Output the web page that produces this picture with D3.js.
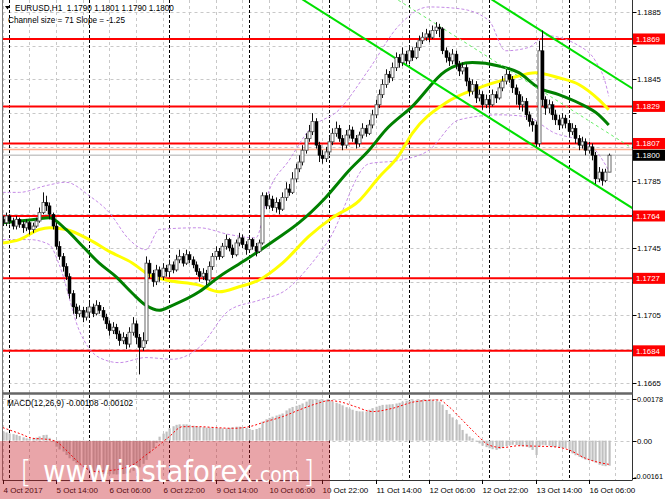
<!DOCTYPE html>
<html><head><meta charset="utf-8">
<script src="https://cdn.jsdelivr.net/npm/d3@7/dist/d3.min.js"></script>
<style>body{margin:0;background:#fff}svg{display:block}</style>
</head><body><svg id="c" width="665" height="499"></svg>
<script>
const opens=[1.1762,1.1760,1.1764,1.1761,1.1758,1.1762,1.1759,1.1757,1.1760,1.1756,
1.1758,1.1761,1.1766,1.1772,1.1770,1.1765,1.1758,1.1746,1.1740,1.1734,
1.1728,1.1718,1.1710,1.1706,1.1708,1.1704,1.1707,1.1710,1.1706,1.1711,
1.1708,1.1704,1.1700,1.1696,1.1698,1.1694,1.1690,1.1692,1.1688,1.1695,
1.1700,1.1692,1.1686,1.1690,1.1736,1.1730,1.1725,1.1732,1.1728,1.1733,
1.1731,1.1735,1.1732,1.1738,1.1740,1.1736,1.1741,1.1738,1.1735,1.1731,
1.1728,1.1730,1.1726,1.1734,1.1740,1.1743,1.1740,1.1746,1.1750,1.1745,
1.1741,1.1748,1.1751,1.1747,1.1744,1.1750,1.1746,1.1743,1.1748,1.1776,
1.1770,1.1774,1.1769,1.1772,1.1768,1.1775,1.1780,1.1778,1.1786,1.1792,
1.1796,1.1803,1.1810,1.1814,1.1820,1.1806,1.1800,1.1798,1.1802,1.1808,
1.1813,1.1816,1.1810,1.1806,1.1812,1.1815,1.1810,1.1807,1.1812,1.1816,
1.1813,1.1818,1.1824,1.1830,1.1836,1.1842,1.1848,1.1846,1.1852,1.1858,
1.1855,1.1860,1.1856,1.1862,1.1858,1.1864,1.1868,1.1870,1.1872,1.1870,
1.1874,1.1876,1.1875,1.1862,1.1858,1.1856,1.1860,1.1854,1.1850,1.1852,
1.1844,1.1838,1.1842,1.1834,1.1836,1.1830,1.1833,1.1830,1.1836,1.1834,
1.1840,1.1844,1.1848,1.1845,1.1840,1.1836,1.1830,1.1832,1.1824,1.1820,
1.1818,1.1807,1.1862,1.1833,1.1828,1.1830,1.1824,1.1821,1.1818,1.1822,
1.1819,1.1814,1.1816,1.1810,1.1806,1.1808,1.1803,1.1805,1.1800,1.1786,
1.1790,1.1785,1.1790];
const highs=[1.1764,1.1766,1.1765,1.1763,1.1764,1.1763,1.1761,1.1762,1.1761,1.1760,
1.1763,1.1769,1.1778,1.1776,1.1772,1.1766,1.1760,1.1749,1.1742,1.1736,
1.1730,1.1720,1.1712,1.1711,1.1710,1.1710,1.1713,1.1712,1.1714,1.1713,
1.1710,1.1706,1.1702,1.1701,1.1700,1.1696,1.1695,1.1694,1.1698,1.1704,
1.1702,1.1694,1.1695,1.1740,1.1738,1.1732,1.1735,1.1734,1.1736,1.1735,
1.1738,1.1737,1.1741,1.1744,1.1742,1.1744,1.1743,1.1740,1.1737,1.1733,
1.1733,1.1732,1.1737,1.1742,1.1746,1.1745,1.1748,1.1753,1.1751,1.1747,
1.1750,1.1754,1.1753,1.1749,1.1752,1.1751,1.1748,1.1750,1.1778,1.1778,
1.1777,1.1776,1.1775,1.1774,1.1778,1.1784,1.1783,1.1790,1.1795,1.1800,
1.1806,1.1813,1.1818,1.1825,1.1822,1.1808,1.1803,1.1805,1.1811,1.1816,
1.1820,1.1818,1.1812,1.1815,1.1818,1.1817,1.1812,1.1814,1.1819,1.1818,
1.1821,1.1827,1.1833,1.1839,1.1845,1.1851,1.1850,1.1855,1.1861,1.1860,
1.1864,1.1862,1.1865,1.1864,1.1867,1.1871,1.1873,1.1875,1.1874,1.1877,
1.1879,1.1878,1.1876,1.1864,1.1861,1.1863,1.1862,1.1856,1.1855,1.1854,
1.1846,1.1845,1.1844,1.1839,1.1838,1.1836,1.1835,1.1839,1.1838,1.1843,
1.1847,1.1851,1.1850,1.1847,1.1842,1.1838,1.1835,1.1834,1.1826,1.1822,
1.1820,1.1868,1.1874,1.1835,1.1833,1.1832,1.1827,1.1824,1.1825,1.1824,
1.1821,1.1819,1.1818,1.1812,1.1811,1.1810,1.1808,1.1807,1.1802,1.1793,
1.1792,1.1792,1.1801];
const lows=[1.1758,1.1758,1.1759,1.1756,1.1756,1.1757,1.1754,1.1755,1.1753,1.1754,
1.1757,1.1760,1.1765,1.1767,1.1762,1.1756,1.1744,1.1738,1.1731,1.1726,
1.1715,1.1706,1.1703,1.1704,1.1701,1.1702,1.1705,1.1704,1.1705,1.1706,
1.1702,1.1697,1.1693,1.1694,1.1691,1.1687,1.1688,1.1685,1.1686,1.1693,
1.1688,1.1670,1.1684,1.1688,1.1727,1.1722,1.1723,1.1725,1.1726,1.1728,
1.1729,1.1730,1.1731,1.1736,1.1734,1.1735,1.1736,1.1733,1.1729,1.1725,
1.1726,1.1723,1.1725,1.1732,1.1738,1.1738,1.1739,1.1744,1.1743,1.1739,
1.1740,1.1746,1.1745,1.1741,1.1743,1.1744,1.1740,1.1742,1.1747,1.1768,
1.1768,1.1767,1.1766,1.1765,1.1767,1.1773,1.1776,1.1777,1.1784,1.1790,
1.1794,1.1801,1.1808,1.1812,1.1804,1.1796,1.1795,1.1796,1.1800,1.1806,
1.1811,1.1808,1.1803,1.1804,1.1810,1.1808,1.1804,1.1805,1.1810,1.1811,
1.1812,1.1816,1.1822,1.1828,1.1834,1.1840,1.1843,1.1844,1.1850,1.1852,
1.1853,1.1854,1.1854,1.1856,1.1857,1.1862,1.1866,1.1868,1.1867,1.1869,
1.1872,1.1870,1.1860,1.1855,1.1853,1.1854,1.1851,1.1847,1.1848,1.1841,
1.1835,1.1836,1.1831,1.1832,1.1827,1.1828,1.1827,1.1829,1.1831,1.1833,
1.1838,1.1842,1.1843,1.1837,1.1830,1.1827,1.1826,1.1821,1.1817,1.1814,
1.1805,1.1805,1.1829,1.1824,1.1825,1.1821,1.1818,1.1815,1.1816,1.1816,
1.1811,1.1812,1.1807,1.1803,1.1804,1.1800,1.1801,1.1797,1.1783,1.1784,
1.1782,1.1784,1.1790];
const closes=[1.1760,1.1764,1.1761,1.1758,1.1762,1.1759,1.1757,1.1760,1.1756,1.1758,
1.1761,1.1766,1.1772,1.1770,1.1765,1.1758,1.1746,1.1740,1.1734,1.1728,
1.1718,1.1710,1.1706,1.1708,1.1704,1.1707,1.1710,1.1706,1.1711,1.1708,
1.1704,1.1700,1.1696,1.1698,1.1694,1.1690,1.1692,1.1688,1.1695,1.1700,
1.1692,1.1686,1.1690,1.1736,1.1730,1.1725,1.1732,1.1728,1.1733,1.1731,
1.1735,1.1732,1.1738,1.1740,1.1736,1.1741,1.1738,1.1735,1.1731,1.1728,
1.1730,1.1726,1.1734,1.1740,1.1743,1.1740,1.1746,1.1750,1.1745,1.1741,
1.1748,1.1751,1.1747,1.1744,1.1750,1.1746,1.1743,1.1748,1.1776,1.1770,
1.1774,1.1769,1.1772,1.1768,1.1775,1.1780,1.1778,1.1786,1.1792,1.1796,
1.1803,1.1810,1.1814,1.1820,1.1806,1.1800,1.1798,1.1802,1.1808,1.1813,
1.1816,1.1810,1.1806,1.1812,1.1815,1.1810,1.1807,1.1812,1.1816,1.1813,
1.1818,1.1824,1.1830,1.1836,1.1842,1.1848,1.1846,1.1852,1.1858,1.1855,
1.1860,1.1856,1.1862,1.1858,1.1864,1.1868,1.1870,1.1872,1.1870,1.1874,
1.1876,1.1875,1.1862,1.1858,1.1856,1.1860,1.1854,1.1850,1.1852,1.1844,
1.1838,1.1842,1.1834,1.1836,1.1830,1.1833,1.1830,1.1836,1.1834,1.1840,
1.1844,1.1848,1.1845,1.1840,1.1836,1.1830,1.1832,1.1824,1.1820,1.1818,
1.1807,1.1862,1.1833,1.1828,1.1830,1.1824,1.1821,1.1818,1.1822,1.1819,
1.1814,1.1816,1.1810,1.1806,1.1808,1.1803,1.1805,1.1800,1.1786,1.1790,
1.1785,1.1790,1.1800];
const macdHist=[0.00039,0.00035,0.00031,0.00028,0.00025,0.00020,0.00014,0.00010,0.00007,0.00009,
0.00013,0.00018,0.00024,0.00025,0.00012,0.00003,-0.00026,-0.00038,-0.00047,-0.00062,
-0.00076,-0.00088,-0.00098,-0.00106,-0.00115,-0.00122,-0.00129,-0.00134,-0.00138,-0.00141,
-0.00143,-0.00144,-0.00145,-0.00145,-0.00146,-0.00145,-0.00144,-0.00142,-0.00138,-0.00130,
-0.00122,-0.00115,-0.00100,-0.00083,-0.00055,-0.00033,-0.00010,0.00017,0.00030,0.00039,
0.00053,0.00062,0.00068,0.00070,0.00070,0.00070,0.00068,0.00064,0.00061,0.00060,
0.00058,0.00056,0.00056,0.00056,0.00055,0.00054,0.00053,0.00053,0.00055,0.00058,
0.00060,0.00060,0.00058,0.00055,0.00050,0.00046,0.00050,0.00055,0.00082,0.00092,
0.00098,0.00103,0.00108,0.00112,0.00117,0.00130,0.00139,0.00145,0.00150,0.00154,
0.00160,0.00168,0.00175,0.00178,0.00177,0.00176,0.00175,0.00175,0.00173,0.00168,
0.00163,0.00159,0.00152,0.00144,0.00138,0.00133,0.00128,0.00126,0.00126,0.00125,
0.00133,0.00140,0.00146,0.00150,0.00154,0.00155,0.00156,0.00157,0.00160,0.00163,
0.00168,0.00172,0.00173,0.00174,0.00174,0.00174,0.00175,0.00176,0.00175,0.00174,
0.00172,0.00168,0.00155,0.00132,0.00115,0.00100,0.00089,0.00070,0.00046,0.00030,
0.00018,0.00010,-0.00005,-0.00012,-0.00022,-0.00028,-0.00033,-0.00037,-0.00040,-0.00036,
-0.00030,-0.00024,-0.00020,-0.00018,-0.00019,-0.00022,-0.00024,-0.00026,-0.00030,-0.00040,
-0.00062,-0.00025,-0.00018,-0.00020,-0.00022,-0.00026,-0.00028,-0.00030,-0.00032,-0.00033,
-0.00040,-0.00055,-0.00063,-0.00070,-0.00076,-0.00082,-0.00085,-0.00088,-0.00095,-0.00104,
-0.00108,-0.00110,-0.00108];
const signalBars=[0,5,9,13,16,19,22,25,28,31,35,39,43,47,50,54,59,64,69,74,79,84,89,94,98,101,106,111,117,124,131,134,138,142,146,150,155,160,165,170,175,180,182];
const signalVals=[0.00056,0.00031,0.00010,0.00006,-0.00004,-0.00040,-0.00083,-0.00119,-0.00133,-0.00130,-0.00123,-0.00105,-0.00062,-0.00019,0.00017,0.00060,0.00060,0.00056,0.00053,0.00060,0.00082,0.00103,0.00132,0.00158,0.00172,0.00168,0.00146,0.00125,0.00139,0.00168,0.00175,0.00146,0.00089,0.00031,-0.00019,-0.00030,-0.00022,-0.00024,-0.00026,-0.00040,-0.00076,-0.00097,-0.00102];
const greenMaBars=[0,10,14,19,24,29,34,39,43,47,51,59,65,73,82,89,97,104,110,115,123,133,141,149,155,161,167,173,179,182];
const greenMaVals=[1.1760,1.1762,1.1763,1.1756,1.1746,1.1736,1.1728,1.1718,1.1711,1.1708,1.1711,1.1719,1.1728,1.1738,1.1750,1.1760,1.1775,1.1791,1.1803,1.1815,1.1829,1.1850,1.1855,1.1853,1.1849,1.1840,1.1836,1.1831,1.1824,1.1818];
const yellowMaBars=[0,5,11,14,19,26,32,39,44,49,59,65,71,77,84,92,99,107,113,119,123,133,143,153,160,167,173,179,182];
const yellowMaVals=[1.1748,1.1750,1.1756,1.1757,1.1756,1.1750,1.1743,1.1736,1.1729,1.1726,1.1723,1.1719,1.1722,1.1726,1.1736,1.1752,1.1763,1.1773,1.1787,1.1800,1.1813,1.1831,1.1840,1.1846,1.1849,1.1846,1.1842,1.1833,1.1827];
const bandUpperBars=[0,5,13,19,26,32,38,43,47,59,68,76,80,86,92,101,110,119,128,137,146,151,158,163,173,178,181,182];
const bandUpperVals=[1.1778,1.1778,1.1782,1.1784,1.1776,1.1766,1.1750,1.1744,1.1756,1.1757,1.1753,1.1751,1.1779,1.1797,1.1815,1.1827,1.1851,1.1877,1.1888,1.1887,1.1880,1.1862,1.1864,1.1871,1.1865,1.1856,1.1843,1.1835];
const bandLowerBars=[0,8,14,17,23,29,35,43,51,59,68,77,85,92,98,110,119,128,137,149,157,166,173,178,182];
const bandLowerVals=[1.1750,1.1750,1.1747,1.1735,1.1696,1.1680,1.1677,1.1680,1.1679,1.1686,1.1708,1.1714,1.1720,1.1734,1.1750,1.1795,1.1797,1.1803,1.1821,1.1824,1.1823,1.1813,1.1809,1.1803,1.1791];
const levels=[1.1869,1.1829,1.1807,1.1764,1.1727,1.1684];
const priceTicks=[1.1885,1.1865,1.1845,1.1825,1.1805,1.1785,1.1765,1.1745,1.1725,1.1705,1.1685,1.1665];
const timeLabels=["4 Oct 2017","5 Oct 14:00","6 Oct 06:00","6 Oct 22:00","9 Oct 14:00","10 Oct 06:00","10 Oct 22:00","11 Oct 14:00","12 Oct 06:00","12 Oct 22:00","13 Oct 14:00","16 Oct 06:00"];
const timeLabelBars=[0,16,32,48,64,80,96,112,128,144,160,176];
const daySeparatorBars=[2,26,50,74,98,122,146,170];
const channelStartBar=92, channelStartPrice=1.1890, channelEndBar=190, channelSlope=-0.000125, channelWidth=0.0071;
const macdTicks=[0.00178,0,-0.00161];
const lastPrice=1.1800, bidLine=1.18035;

const svg=d3.select("#c");
const L=2.5,R=632.5,T=0,B=393,MT=395,MB=480;
const x=d3.scaleLinear().domain([0,1]).range([2.7,6.03]);
const y=d3.scaleLinear().domain([1.1745,1.1885]).range([248,12]);
const ym=d3.scaleLinear().domain([-0.00161,0.00178]).range([478,399.3]);
const FONT="'Liberation Sans', Arial, sans-serif";

svg.append("rect").attr("width",665).attr("height",499).attr("fill","#fff");
const defs=svg.append("defs");
defs.append("clipPath").attr("id","cm").append("rect").attr("x",L).attr("y",T).attr("width",R-L).attr("height",B-T);
defs.append("clipPath").attr("id","cmacd").append("rect").attr("x",L).attr("y",MT).attr("width",R-L).attr("height",MB-MT);

// grid
const grid=svg.append("g");
d3.range(0,190,8).forEach(b=>{
  [[T,B],[MT,MB]].forEach(([a,c])=>grid.append("line").attr("x1",Math.round(x(b))+0.5).attr("x2",Math.round(x(b))+0.5).attr("y1",a).attr("y2",c)
    .attr("stroke","#c8c8c8").attr("stroke-dasharray","3,3"));
});
priceTicks.forEach(p=>grid.append("line").attr("x1",L).attr("x2",R).attr("y1",Math.round(y(p))+0.5).attr("y2",Math.round(y(p))+0.5)
  .attr("stroke","#c8c8c8").attr("stroke-dasharray","3,3"));
[0.00178,0].forEach(v=>grid.append("line").attr("x1",L).attr("x2",R).attr("y1",Math.round(ym(v))+0.5).attr("y2",Math.round(ym(v))+0.5)
  .attr("stroke","#c8c8c8").attr("stroke-dasharray","3,3"));
daySeparatorBars.forEach(b=>{
  [[T,B],[MT,MB]].forEach(([a,c])=>grid.append("line").attr("x1",Math.round(x(b))+0.5).attr("x2",Math.round(x(b))+0.5).attr("y1",a).attr("y2",c)
    .attr("stroke","#000").attr("stroke-dasharray","3,2"));
});

const main=svg.append("g").attr("clip-path","url(#cm)");
levels.forEach(p=>main.append("line").attr("x1",L).attr("x2",R).attr("y1",y(p)).attr("y2",y(p)).attr("stroke","#ff0000").attr("stroke-width",2));
main.append("line").attr("x1",L).attr("x2",R).attr("y1",y(bidLine)).attr("y2",y(bidLine)).attr("stroke","#ffb090").attr("stroke-width",1.5);
main.append("line").attr("x1",L).attr("x2",R).attr("y1",y(lastPrice)).attr("y2",y(lastPrice)).attr("stroke","#c8c8c8").attr("stroke-width",1.5);

// bands
const bandGen=d3.line().x(d=>x(d[0])).y(d=>y(d[1])).curve(d3.curveMonotoneX);
[[bandUpperBars,bandUpperVals],[bandLowerBars,bandLowerVals]].forEach(([bs,vs])=>
  main.append("path").attr("d",bandGen(bs.map((b,i)=>[b,vs[i]]))).attr("fill","none").attr("stroke","#c58be6").attr("stroke-width",1).attr("stroke-dasharray","3,2"));

// moving averages
const lineGen=d3.line().x(d=>x(d[0])).y(d=>y(d[1])).curve(d3.curveMonotoneX);
main.append("path").attr("d",lineGen(yellowMaBars.map((b,i)=>[b,yellowMaVals[i]]))).attr("fill","none").attr("stroke","#ffff00").attr("stroke-width",3);
main.append("path").attr("d",lineGen(greenMaBars.map((b,i)=>[b,greenMaVals[i]]))).attr("fill","none").attr("stroke","#008000").attr("stroke-width",3);

// channel
const chan=off=>[[channelStartBar-60,channelStartPrice+off-channelSlope*60],[channelEndBar,channelStartPrice+off+channelSlope*(channelEndBar-channelStartBar)]];
const straight=d3.line().x(d=>x(d[0])).y(d=>y(d[1]));
main.append("path").attr("d",straight(chan(0))).attr("stroke","#00e000").attr("stroke-width",2).attr("fill","none");
main.append("path").attr("d",straight(chan(channelWidth))).attr("stroke","#00e000").attr("stroke-width",2).attr("fill","none");
main.append("path").attr("d",straight(chan(channelWidth/2))).attr("stroke","#66ee66").attr("stroke-width",1).attr("stroke-dasharray","3,3").attr("fill","none");

// candles
const cg=main.append("g");
closes.forEach((c,i)=>{
  const o=opens[i],h=Math.max(highs[i],o,c),l=Math.min(lows[i],o,c);
  const cx=Math.round(x(i))+0.5;
  cg.append("line").attr("x1",cx).attr("x2",cx).attr("y1",y(h)).attr("y2",y(l)).attr("stroke","#111").attr("stroke-width",1);
  const top=y(Math.max(o,c)),bot=y(Math.min(o,c));
  const bull=c>=o;
  cg.append("rect").attr("x",cx-1.5).attr("y",top).attr("width",3).attr("height",Math.max(1,bot-top))
    .attr("fill",bull?"#fff":"#000").attr("stroke",bull?"#555":"#000").attr("stroke-width",bull?0.9:0.5);
});

// MACD
const mg=svg.append("g").attr("clip-path","url(#cmacd)");
macdHist.forEach((v,i)=>{
  const cx=Math.round(x(i));
  mg.append("rect").attr("x",cx-0.5).attr("width",2.2).attr("y",Math.min(ym(v),ym(0))).attr("height",Math.abs(ym(v)-ym(0))).attr("fill","#c0c0c0");
});
const sigGen=d3.line().x(d=>x(d[0])).y(d=>ym(d[1])).curve(d3.curveMonotoneX);
mg.append("path").attr("d",sigGen(signalBars.map((b,i)=>[b,signalVals[i]]))).attr("fill","none").attr("stroke","#ff0000").attr("stroke-width",1).attr("stroke-dasharray","2,2");

// frames
const fr=svg.append("g").attr("fill","none");
fr.append("line").attr("x1",L).attr("x2",L).attr("y1",0).attr("y2",MB).attr("stroke","#777");
fr.append("line").attr("x1",R).attr("x2",R).attr("y1",0).attr("y2",MB).attr("stroke","#333");
fr.append("line").attr("x1",L).attr("x2",R).attr("y1",393.5).attr("y2",393.5).attr("stroke","#666").attr("stroke-width",2.5);
fr.append("line").attr("x1",L).attr("x2",R).attr("y1",MB+0.5).attr("y2",MB+0.5).attr("stroke","#333");

// price axis
const ax=svg.append("g").attr("font-family",FONT).attr("font-size","7.8px");
priceTicks.forEach(p=>{
  ax.append("line").attr("x1",R).attr("x2",R+4).attr("y1",Math.round(y(p))+0.5).attr("y2",Math.round(y(p))+0.5).attr("stroke","#000");
  const hidden=levels.some(l=>Math.abs(y(l)-y(p))<11)||Math.abs(y(lastPrice)-y(p))<11;
  if(!hidden) ax.append("text").attr("x",637).attr("y",y(p)+3).text(p.toFixed(4)).attr("fill","#000");
});
macdTicks.forEach(v=>{
  ax.append("line").attr("x1",R).attr("x2",R+4).attr("y1",Math.round(ym(v))+0.5).attr("y2",Math.round(ym(v))+0.5).attr("stroke","#000");
  const t=ax.append("text").attr("x",v<0?634:637).attr("y",Math.min(ym(v),475.5)+3).text(v===0?"0.00":v.toFixed(5)).attr("fill","#000");
  if(v!==0) t.attr("textLength",v<0?29:26).attr("lengthAdjust","spacingAndGlyphs");
});
levels.forEach(p=>{
  ax.append("rect").attr("x",R+0.5).attr("y",y(p)-5.5).attr("width",32).attr("height",11).attr("fill","#ff0000");
  ax.append("text").attr("x",636).attr("y",y(p)+3).text(p.toFixed(4)).attr("fill","#fff");
});
ax.append("rect").attr("x",R+0.5).attr("y",y(bidLine)).attr("width",32).attr("height",2).attr("fill","#ffb090");
ax.append("rect").attr("x",R+0.5).attr("y",y(lastPrice)-5.5).attr("width",32).attr("height",11).attr("fill","#000");
ax.append("text").attr("x",636).attr("y",y(lastPrice)+3).text(lastPrice.toFixed(4)).attr("fill","#fff");

// time axis
const tax=svg.append("g").attr("font-family",FONT).attr("font-size","8px");
timeLabelBars.forEach((b,i)=>{
  const tx=Math.round(x(b))+0.5;
  tax.append("line").attr("x1",tx).attr("x2",tx).attr("y1",MB).attr("y2",MB+4).attr("stroke","#000");
  tax.append("text").attr("x",tx).attr("y",493).text(timeLabels[i]).attr("fill","#000");
});

// headers
const hd=svg.append("g").attr("font-family",FONT).attr("font-size","8.2px").attr("fill","#000");
hd.append("path").attr("d","M5,6 L10,6 L7.5,9.5 Z").attr("fill","#000");
hd.append("text").attr("x",15).attr("y",11).style("white-space","pre").text("EURUSD,H1  1.1790 1.1801 1.1790 1.1800");
hd.append("text").attr("x",8).attr("y",23).text("Channel size = 71 Slope = -1.25");
hd.append("text").attr("x",7).attr("y",406).text("MACD(12,26,9) -0.00108 -0.00102");

// watermark
const wm=svg.append("g");
wm.append("rect").attr("x",0).attr("y",441).attr("width",330).attr("height",58).attr("fill","rgba(200,30,40,0.4)");
const wt=wm.append("g").attr("fill","#fff").attr("font-family","'DejaVu Sans', sans-serif");
wt.append("text").attr("x",20).attr("y",482).attr("font-size","30px").attr("font-weight","200").text("[");
wt.append("text").attr("x",43).attr("y",482).attr("font-size","30px").attr("textLength",210).attr("lengthAdjust","spacingAndGlyphs").text("www.instaforex");
wt.append("text").attr("x",254).attr("y",482).attr("font-size","21px").attr("textLength",46).attr("lengthAdjust","spacingAndGlyphs").text(".com");
wt.append("text").attr("x",303).attr("y",482).attr("font-size","30px").attr("font-weight","200").text("]");
</script></body></html>
